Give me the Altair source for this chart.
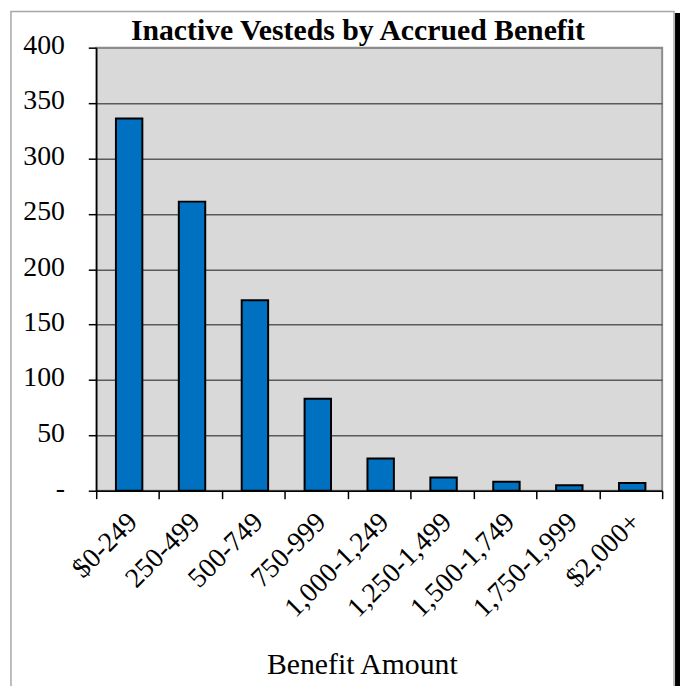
import altair as alt
import pandas as pd

# ---- data ----
categories = ["$0-249", "250-499", "500-749", "750-999", "1,000-1,249",
              "1,250-1,499", "1,500-1,749", "1,750-1,999", "$2,000+"]
counts = [336, 261, 172, 83, 29, 12, 8, 5, 7]
y_ticks = [0, 50, 100, 150, 200, 250, 300, 350, 400]
title_text = "Inactive Vesteds by Accrued Benefit"
x_title = "Benefit Amount"

df = pd.DataFrame({"range": categories, "count": counts})

FONT = "Liberation Serif"
W, H = 571, 447

bars = alt.Chart(df).mark_bar(
    width=alt.RelativeBandSize(0.42), color="#0070c0", stroke="black", strokeWidth=2,
    xOffset=1.5
).encode(
    x=alt.X("range:N", sort=categories,
            scale=alt.Scale(paddingInner=0, paddingOuter=0),
            axis=alt.Axis(title=x_title, titleX=268, titleY=184, titleAlign="center",
                          titleBaseline="alphabetic", titleFontSize=30, titleFontWeight="normal",
                          titleFont=FONT, titleColor="black",
                          labelAngle=-45, labelAlign="right", labelBaseline="middle",
                          labelFontSize=28, labelFont=FONT, labelColor="black", labelPadding=19,
                          labelOffset=5,
                          tickBand="extent", tickSize=8, tickColor="black", tickWidth=1.5,
                          domainColor="black", domainWidth=1.5, grid=False)),
    y=alt.Y("count:Q", scale=alt.Scale(domain=[0, 400], nice=False),
            axis=alt.Axis(values=y_ticks, title=None,
                          labelExpr="datum.value == 0 ? '-' : datum.label",
                          labelFontSize=28, labelFont=FONT, labelColor="black", labelPadding=24,
                          labelBaseline="middle", labelOffset=-2,
                          tickSize=8, tickColor="black", tickWidth=1.5,
                          domainColor="black", domainWidth=1.5,
                          grid=True, gridWidth=1.5,
                          gridColor={"condition": {"test": "datum.value == 400", "value": "#8c8c8c"},
                                     "value": "#5a5a5a"})),
)

one = alt.Data(values=[{}])

frame = alt.Chart(one).mark_rect(fillOpacity=0, stroke="#a6a6a6", strokeWidth=1.5).encode(
    x=alt.value(-86), x2=alt.value(583), y=alt.value(-36.5), y2=alt.value(700)
)
shadow = alt.Chart(one).mark_rect(color="black").encode(
    x=alt.value(584), x2=alt.value(589), y=alt.value(-35), y2=alt.value(700)
)
title_layer = alt.Chart(one).mark_text(
    text=title_text, font=FONT, fontSize=30, fontWeight="bold", align="center",
    baseline="alphabetic", color="black"
).encode(x=alt.value(264), y=alt.value(-8))

chart = alt.layer(frame, shadow, bars, title_layer).properties(
    width=W, height=H,
    padding={"left": 89, "top": 37, "right": 18, "bottom": 194},
    autosize=alt.AutoSizeParams(type="none"),
    background="white",
).configure(font=FONT).configure_view(fill="#d9d9d9", stroke="#8c8c8c", strokeWidth=2)

chart.save("out.html", embed_options={"renderer": "svg", "actions": False})
